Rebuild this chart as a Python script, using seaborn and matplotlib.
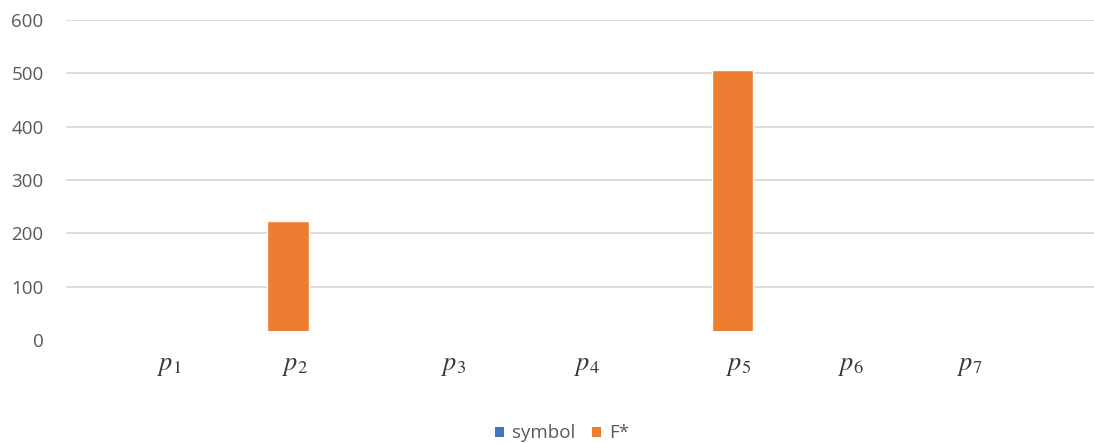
import matplotlib
matplotlib.use("Agg")
import matplotlib.pyplot as plt
from matplotlib.patches import Patch, Rectangle
import seaborn as sns
import pandas as pd
import numpy as np

# ---- data ----
categories = ["p1", "p2", "p3", "p4", "p5", "p6", "p7"]
tick_labels = [r"$p_1$", r"$p_2$", r"$p_3$", r"$p_4$", r"$p_5$", r"$p_6$", r"$p_7$"]
symbol_values = [0, 0, 0, 0, 0, 0, 0]
fstar_values = [0, 223, 0, 0, 507, 0, 0]
series_names = ["symbol", "F*"]
y_ticks = [0, 100, 200, 300, 400, 500, 600]

# ---- layout (label placement, not data) ----
label_offsets = [0.20, 0.05, 0.12, 0.02, 0.04, -0.20, -0.40]

BLUE = "#4472C4"
ORANGE = "#ED7D31"
GREY = "#595959"

sns.set_theme(style="white")
plt.rcParams["font.family"] = ["Open Sans", "DejaVu Sans"]
plt.rcParams["mathtext.fontset"] = "stix"

fig = plt.figure(figsize=(10.94, 4.43), dpi=100)
ax = fig.add_axes([0.0601, 0.2325, 0.9481, 0.7225])

df = pd.DataFrame({"cat": categories, "symbol": symbol_values, "F*": fstar_values})
sns.barplot(data=df, x="cat", y="symbol", color=BLUE, width=0.28, ax=ax,
            saturation=1, zorder=2)
sns.barplot(data=df, x="cat", y="F*", color=ORANGE, width=0.28, ax=ax,
            saturation=1, zorder=2, bottom=df["symbol"])

ax.set_ylim(0, 600)
ax.set_xlim(-0.5, len(categories) - 0.5)
ax.set_yticks(y_ticks)
ax.set_yticklabels([str(v) for v in y_ticks], color=GREY, fontsize=13.5)
ax.tick_params(axis="y", length=0, pad=16)
ax.yaxis.grid(True, color="#D9D9D9", linewidth=1.3, zorder=0)
ax.set_axisbelow(True)
for sp in ax.spines.values():
    sp.set_visible(False)
ax.set_xlabel("")
ax.set_ylabel("")

# white strip that hides the bar bases (label image overlay in original)
ax.add_patch(Rectangle((0, -0.01), 1, 0.038, transform=ax.transAxes,
                       facecolor="white", edgecolor="none", zorder=5, clip_on=False))

ax.set_xticks(np.arange(len(categories)) + np.array(label_offsets))
ax.set_xticklabels(tick_labels, fontsize=19, color="#3a3a3a")
ax.tick_params(axis="x", length=0, pad=9)

handles = [Patch(facecolor=BLUE, edgecolor="none"), Patch(facecolor=ORANGE, edgecolor="none")]
fig.legend(handles, series_names, loc="center", bbox_to_anchor=(0.514, 0.022),
           ncol=2, frameon=False, fontsize=13.5, labelcolor=GREY,
           handlelength=0.45, handleheight=0.45, handletextpad=0.45, columnspacing=0.9)

fig.savefig("out.png", dpi=100, facecolor="white")
